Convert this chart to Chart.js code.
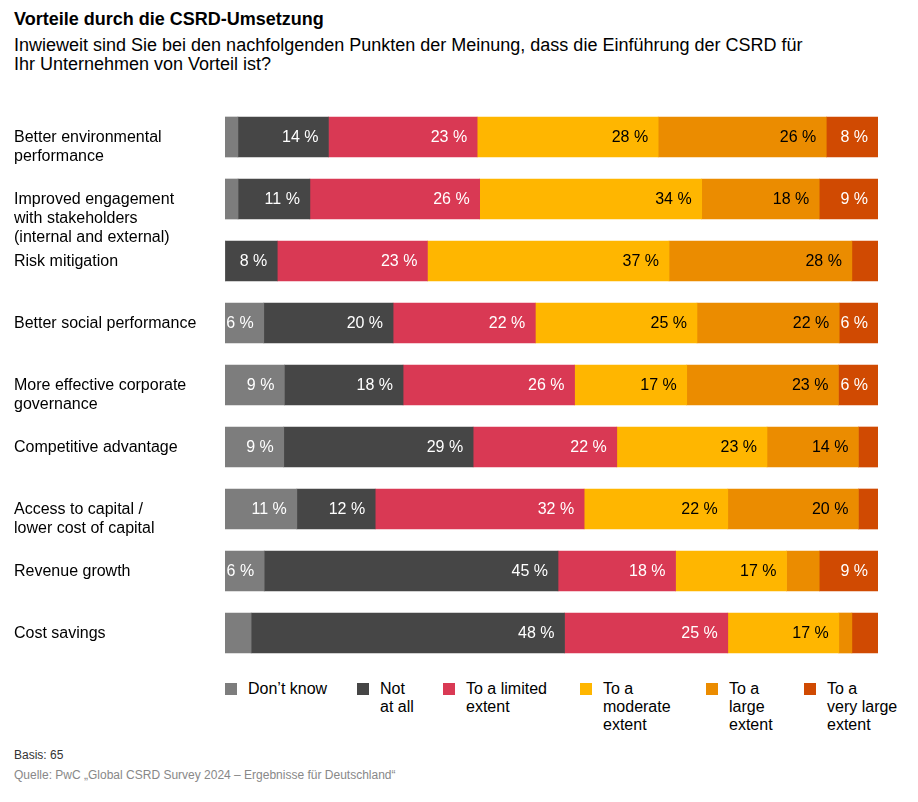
<!DOCTYPE html>
<html lang="de">
<head>
<meta charset="utf-8">
<title>Vorteile durch die CSRD-Umsetzung</title>
<script src="https://cdn.jsdelivr.net/npm/chart.js@4.4.1/dist/chart.umd.min.js"></script>
<style>
  body { margin: 0; background: #fff; font-family: "Liberation Sans", Arial, Helvetica, sans-serif; color: #000; }
  #page { position: relative; width: 918px; height: 802px; overflow: hidden; }
  #title { position: absolute; left: 14px; top: 9px; font-size: 18px; font-weight: bold; }
  #subtitle { position: absolute; left: 14px; top: 36px; font-size: 18px; line-height: 19px; }
  #chartBox { position: absolute; left: 0; top: 106px; width: 918px; height: 558px; }
  #legend { position: absolute; left: 0; top: 680px; width: 918px; height: 70px; }
  .item { position: absolute; top: 0; font-size: 16px; line-height: 18px; }
  .item span.box { position: absolute; left: 0; top: 3px; width: 12px; height: 12px; }
  .item span.txt { position: absolute; left: 23px; top: 0; white-space: pre; }
  #basis { position: absolute; left: 14px; top: 748px; font-size: 12px; color: #333; }
  #source { position: absolute; left: 14px; top: 768px; font-size: 12px; color: #888; }
</style>
</head>
<body>
<div id="page">
  <div id="title">Vorteile durch die CSRD-Umsetzung</div>
  <div id="subtitle">Inwieweit sind Sie bei den nachfolgenden Punkten der Meinung, dass die Einführung der CSRD für<br>Ihr Unternehmen von Vorteil ist?</div>
  <div id="chartBox"><canvas id="myChart"></canvas></div>
  <div id="legend"></div>
  <div id="basis">Basis: 65</div>
  <div id="source">Quelle: PwC „Global CSRD Survey 2024 – Ergebnisse für Deutschland“</div>
</div>
<script>
var categories = [
    "Better environmental\nperformance",
    "Improved engagement\nwith stakeholders\n(internal and external)",
    "Risk mitigation",
    "Better social performance",
    "More effective corporate\ngovernance",
    "Competitive advantage",
    "Access to capital /\nlower cost of capital",
    "Revenue growth",
    "Cost savings"
];
var seriesNames = ["Don’t know", "Not\nat all", "To a limited\nextent", "To a\nmoderate\nextent", "To a\nlarge\nextent", "To a\nvery large\nextent"];

// percent per category
var dontKnow  = [2, 2, 0, 6, 9, 9, 11, 6, 4];
var notAtAll  = [14, 11, 8, 20, 18, 29, 12, 45, 48];
var limited   = [23, 26, 23, 22, 26, 22, 32, 18, 25];
var moderate  = [28, 34, 37, 25, 17, 23, 22, 17, 17];
var large     = [26, 18, 28, 22, 23, 14, 20, 5, 2];
var veryLarge = [8, 9, 4, 6, 6, 3, 3, 9, 4];

var colors = ["#7d7d7d", "#464646", "#d93954", "#ffb600", "#eb8c00", "#d04a02"];
var labelColors = ["#fff", "#fff", "#fff", "#000", "#000", "#fff"];
var legendLeft = [225, 357, 443, 580, 706, 804];

var allSeries = [dontKnow, notAtAll, limited, moderate, large, veryLarge];

// each row is drawn as share of its own total (rounded values do not always add to 100)
var rowTotals = categories.map(function(c, i) {
    return allSeries.reduce(function(s, arr) { return s + arr[i]; }, 0);
});

var datasets = allSeries.map(function(arr, k) {
    return {
        label: seriesNames[k].replace(/\n/g, " "),
        data: arr.map(function(v, i) { return v / rowTotals[i] * 100; }),
        raw: arr,
        backgroundColor: colors[k],
        borderWidth: 0,
        barThickness: 40
    };
});

var barLabels = {
    id: 'barLabels',
    afterDatasetsDraw: function(chart) {
        var ctx = chart.ctx;
        ctx.save();
        ctx.font = '16px "Liberation Sans", Arial, sans-serif';
        ctx.textAlign = 'right';
        ctx.textBaseline = 'middle';
        chart.data.datasets.forEach(function(ds, k) {
            var meta = chart.getDatasetMeta(k);
            meta.data.forEach(function(bar, i) {
                var v = ds.raw[i];
                if (v < 6) return;
                ctx.fillStyle = labelColors[k];
                ctx.fillText(v + ' %', bar.x - 10, bar.y + 1);
            });
        });
        ctx.restore();
    }
};

// category names: first line on the bar centre, the rest runs below
var categoryLabels = {
    id: 'categoryLabels',
    afterDraw: function(chart) {
        var ctx = chart.ctx;
        var yScale = chart.scales.y;
        ctx.save();
        ctx.font = '16px "Liberation Sans", Arial, sans-serif';
        ctx.fillStyle = '#000';
        ctx.textAlign = 'left';
        ctx.textBaseline = 'middle';
        categories.forEach(function(name, i) {
            var y = yScale.getPixelForValue(i);
            name.split('\n').forEach(function(line, j) {
                ctx.fillText(line, 14, y + 1 + j * 19);
            });
        });
        ctx.restore();
    }
};

var ctx = document.getElementById('myChart').getContext('2d');
var myChart = new Chart(ctx, {
    type: 'bar',
    data: { labels: categories, datasets: datasets },
    options: {
        indexAxis: 'y',
        responsive: true,
        maintainAspectRatio: false,
        animation: false,
        layout: { padding: { left: 225, right: 40, top: 0, bottom: 0 } },
        plugins: { legend: { display: false }, tooltip: { enabled: false } },
        scales: {
            x: { stacked: true, min: 0, max: 100, display: false },
            y: { stacked: true, display: false }
        }
    },
    plugins: [barLabels, categoryLabels]
});

// legend
var legend = document.getElementById('legend');
seriesNames.forEach(function(name, k) {
    var item = document.createElement('div');
    item.className = 'item';
    item.style.left = legendLeft[k] + 'px';
    item.innerHTML = '<span class="box" style="background:' + colors[k] + '"></span><span class="txt"></span>';
    item.querySelector('.txt').textContent = name;
    legend.appendChild(item);
});
</script>
</body>
</html>
